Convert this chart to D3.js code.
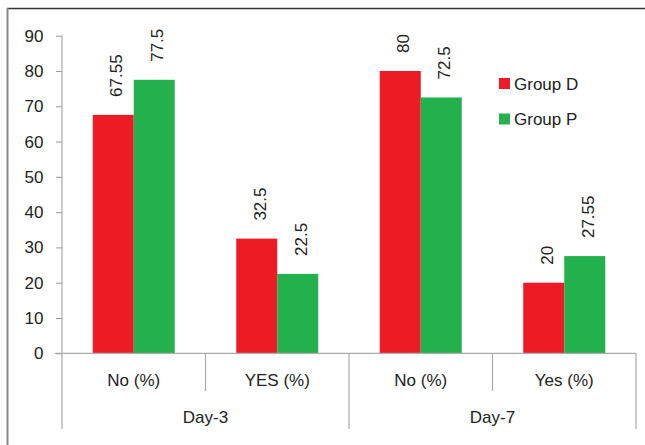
<!DOCTYPE html>
<html>
<head>
<meta charset="utf-8">
<script src="https://cdn.jsdelivr.net/npm/d3@7"></script>
<style>
  html, body { margin: 0; padding: 0; background: #fff; }
  svg { display: block; font-family: "Liberation Sans", Arial, sans-serif; }
</style>
</head>
<body>
<svg id="chart" width="645" height="445"></svg>
<script>
// Data
const days = ["Day-3", "Day-7"];
const answers = ["No (%)", "YES (%)", "No (%)", "Yes (%)"];
const answerDay = [0, 0, 1, 1];
const series = ["Group D", "Group P"];
const groupD = [67.55, 32.5, 80, 20];
const groupP = [77.5, 22.5, 72.5, 27.55];
const yTicks = [0, 10, 20, 30, 40, 50, 60, 70, 80, 90];
const colors = ["#ED1C24", "#22B14C"];

(function draw() {
  const svg = d3.select("#chart");
  const plotLeft = 62, plotRight = 636, plotTop = 35.7, plotBottom = 353.3;
  const fs = 17;
  const textColor = "#222";

  // Outer frame
  svg.append("line").attr("x1", 7).attr("x2", 645).attr("y1", 8.5).attr("y2", 8.5)
    .attr("stroke", "#333").attr("stroke-width", 1.5);
  svg.append("line").attr("x1", 7.5).attr("x2", 7.5).attr("y1", 8).attr("y2", 445)
    .attr("stroke", "#888").attr("stroke-width", 2);

  const y = d3.scaleLinear().domain([0, 90]).range([plotBottom, plotTop]);
  const x = d3.scaleBand().domain(d3.range(answers.length)).range([plotLeft, plotRight]);
  const bandW = x.bandwidth();
  const barW = 41;
  const xs = d3.scaleBand().domain(d3.range(series.length)).range([0, barW * 2]);

  // Y axis
  const yAxis = d3.axisLeft(y).tickValues(yTicks).tickSize(6).tickPadding(12.5);
  const gy = svg.append("g").attr("transform", `translate(${plotLeft},0)`).call(yAxis);
  gy.select(".domain").attr("stroke", "#999").attr("d", `M0,${plotTop}V${plotBottom}`);
  gy.selectAll(".tick line").attr("stroke", "#999");
  gy.selectAll(".tick text").attr("font-size", fs).attr("fill", textColor)
    .attr("font-family", "Liberation Sans, Arial, sans-serif");

  // Bars with rotated value labels
  const gBars = svg.append("g");
  answers.forEach((a, i) => {
    const x0 = x(i) + (bandW - barW * 2) / 2;
    [groupD, groupP].forEach((vals, s) => {
      const v = vals[i];
      gBars.append("rect")
        .attr("x", x0 + xs(s))
        .attr("y", y(v))
        .attr("width", xs.bandwidth())
        .attr("height", y(0) - y(v))
        .attr("fill", colors[s]);
      const cx = x0 + xs(s) + xs.bandwidth() / 2 + 9;
      const cy = y(v) - 18;
      gBars.append("text")
        .attr("transform", `translate(${cx},${cy}) rotate(-90)`)
        .attr("text-anchor", "start")
        .attr("font-size", fs)
        .attr("fill", textColor)
        .text(v);
    });
  });

  // X axis line and category dividers
  const axisColor = "#aaa";
  svg.append("line").attr("x1", 55).attr("x2", plotRight).attr("y1", plotBottom).attr("y2", plotBottom)
    .attr("stroke", axisColor).attr("stroke-width", 1.2);
  d3.range(answers.length + 1).forEach(i => {
    const xp = i < answers.length ? x(i) : plotRight;
    const long = i % 2 === 0;
    svg.append("line").attr("x1", xp).attr("x2", xp)
      .attr("y1", plotBottom).attr("y2", long ? 429 : 391)
      .attr("stroke", axisColor).attr("stroke-width", 1.2);
  });

  // Category labels
  answers.forEach((a, i) => {
    svg.append("text").attr("x", x(i) + bandW / 2).attr("y", 386)
      .attr("text-anchor", "middle").attr("font-size", fs).attr("fill", textColor).text(a);
  });
  days.forEach((d, k) => {
    const idx = answerDay.map((v, i) => v === k ? i : -1).filter(i => i >= 0);
    const x1 = x(idx[0]), x2 = x(idx[idx.length - 1]) + bandW;
    svg.append("text").attr("x", (x1 + x2) / 2).attr("y", 423)
      .attr("text-anchor", "middle").attr("font-size", fs).attr("fill", textColor).text(d);
  });

  // Legend
  const lg = svg.append("g").attr("transform", "translate(499,78)");
  series.forEach((s, i) => {
    lg.append("rect").attr("x", 0).attr("y", i * 35.5).attr("width", 11).attr("height", 11).attr("fill", colors[i]);
    lg.append("text").attr("x", 15).attr("y", i * 35.5 + 11.5).attr("font-size", fs).attr("fill", textColor).text(s);
  });
})();
</script>
</body>
</html>
